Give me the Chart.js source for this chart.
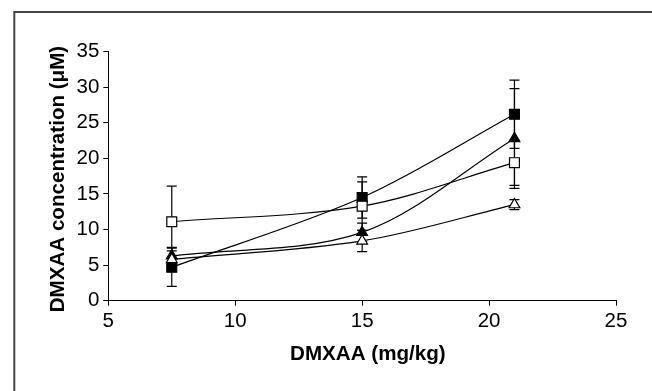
<!DOCTYPE html>
<html><head><meta charset="utf-8">
<script src="https://cdn.jsdelivr.net/npm/chart.js@4/dist/chart.umd.min.js"></script>
<style>html,body{margin:0;padding:0;background:#fff;}canvas{display:block;}</style>
</head><body>
<canvas id="c" width="652" height="391"></canvas>
<script>
const doses = [7.5, 15, 21];
const filledSquare = [4.7, 14.5, 26.2];
const filledSquareErr = [2.7, 2.9, 4.8];
const openSquare = [11.1, 13.3, 19.4];
const openSquareErr = [5.0, 3.4, 3.2];
const filledTriangle = [6.3, 9.6, 22.8];
const filledTriangleErr = [1.2, 1.3, 7.0];
const openTriangle = [5.8, 8.4, 13.5];
const openTriangleErr = [1.2, 1.5, 0.7];
const xTicks = [5, 10, 15, 20, 25];
const yTicks = [0, 5, 10, 15, 20, 25, 30, 35];

const FONT = "'Liberation Sans', Arial, Helvetica, sans-serif";

function mk(label, vals, errs, style, fill, radius) {
  return {
    label, errs,
    data: doses.map((d, i) => ({x: d, y: vals[i]})),
    borderColor: '#000', borderWidth: 1.2,
    pointStyle: style, pointRadius: radius, pointHoverRadius: radius,
    pointBackgroundColor: fill, pointBorderColor: '#000', pointBorderWidth: 1.2,
    tension: 0.33, fill: false, showLine: true
  };
}

const frame = {
  id: 'frame',
  beforeDraw(chart) {
    const ctx = chart.ctx;
    ctx.save();
    ctx.fillStyle = '#fff';
    ctx.fillRect(0, 0, chart.width, chart.height);
    ctx.strokeStyle = '#444';
    ctx.lineWidth = 2;
    ctx.beginPath();
    ctx.moveTo(14.3, chart.height);
    ctx.lineTo(14.3, 12);
    ctx.lineTo(chart.width, 12);
    ctx.stroke();
    ctx.restore();
  }
};

const errorBars = {
  id: 'errorBars',
  beforeDatasetsDraw(chart) {
    const ctx = chart.ctx, xs = chart.scales.x, ys = chart.scales.y;
    ctx.save();
    ctx.strokeStyle = '#000';
    ctx.lineWidth = 1.2;
    chart.data.datasets.forEach(ds => {
      ds.data.forEach((p, i) => {
        const e = ds.errs[i];
        const x = xs.getPixelForValue(p.x);
        const yt = ys.getPixelForValue(p.y + e);
        const yb = ys.getPixelForValue(p.y - e);
        ctx.beginPath();
        ctx.moveTo(x, yt); ctx.lineTo(x, yb);
        ctx.moveTo(x - 5, yt); ctx.lineTo(x + 5, yt);
        ctx.moveTo(x - 5, yb); ctx.lineTo(x + 5, yb);
        ctx.stroke();
      });
    });
    ctx.restore();
  }
};

new Chart(document.getElementById('c'), {
  type: 'scatter',
  data: {
    datasets: [
      mk('open triangle', openTriangle, openTriangleErr, 'triangle', '#fff', 6.2),
      mk('open square', openSquare, openSquareErr, 'rect', '#fff', 7),
      mk('filled triangle', filledTriangle, filledTriangleErr, 'triangle', '#000', 6.2),
      mk('filled square', filledSquare, filledSquareErr, 'rect', '#000', 7)
    ]
  },
  options: {
    responsive: false,
    animation: false,
    events: [],
    layout: {padding: {left: 0, top: 51.7, right: 36, bottom: 0}},
    plugins: {legend: {display: false}, tooltip: {enabled: false}},
    scales: {
      x: {
        type: 'linear', min: 5, max: 25,
        afterBuildTicks: s => { s.ticks = xTicks.map(v => ({value: v})); },
        afterFit: s => { s.height = 90.3; },
        grid: {drawOnChartArea: false, drawTicks: true, tickLength: 5, color: '#000', lineWidth: 1},
        border: {display: true, color: '#000', width: 1},
        ticks: {color: '#000', padding: 3, font: {family: FONT, size: 20.5}, maxRotation: 0},
        title: {display: true, text: '\u00a0\u00a0DMXAA (mg/kg)', color: '#000', font: {family: FONT, size: 20.6, weight: 'bold'}, padding: {top: 0, bottom: 24}}
      },
      y: {
        type: 'linear', min: 0, max: 35,
        afterBuildTicks: s => { s.ticks = yTicks.map(v => ({value: v})); },
        afterFit: s => { s.width = 108.3; },
        grid: {drawOnChartArea: false, drawTicks: true, tickLength: 5, color: '#000', lineWidth: 1},
        border: {display: true, color: '#000', width: 1},
        ticks: {color: '#000', padding: 4, font: {family: FONT, size: 20.5}},
        title: {display: true, text: 'DMXAA concentration (μM)\u00a0', color: '#000', font: {family: FONT, size: 20.6, weight: 'bold'}, padding: {top: 45.5, bottom: 0}}
      }
    }
  },
  plugins: [frame, errorBars]
});
</script>
</body></html>
